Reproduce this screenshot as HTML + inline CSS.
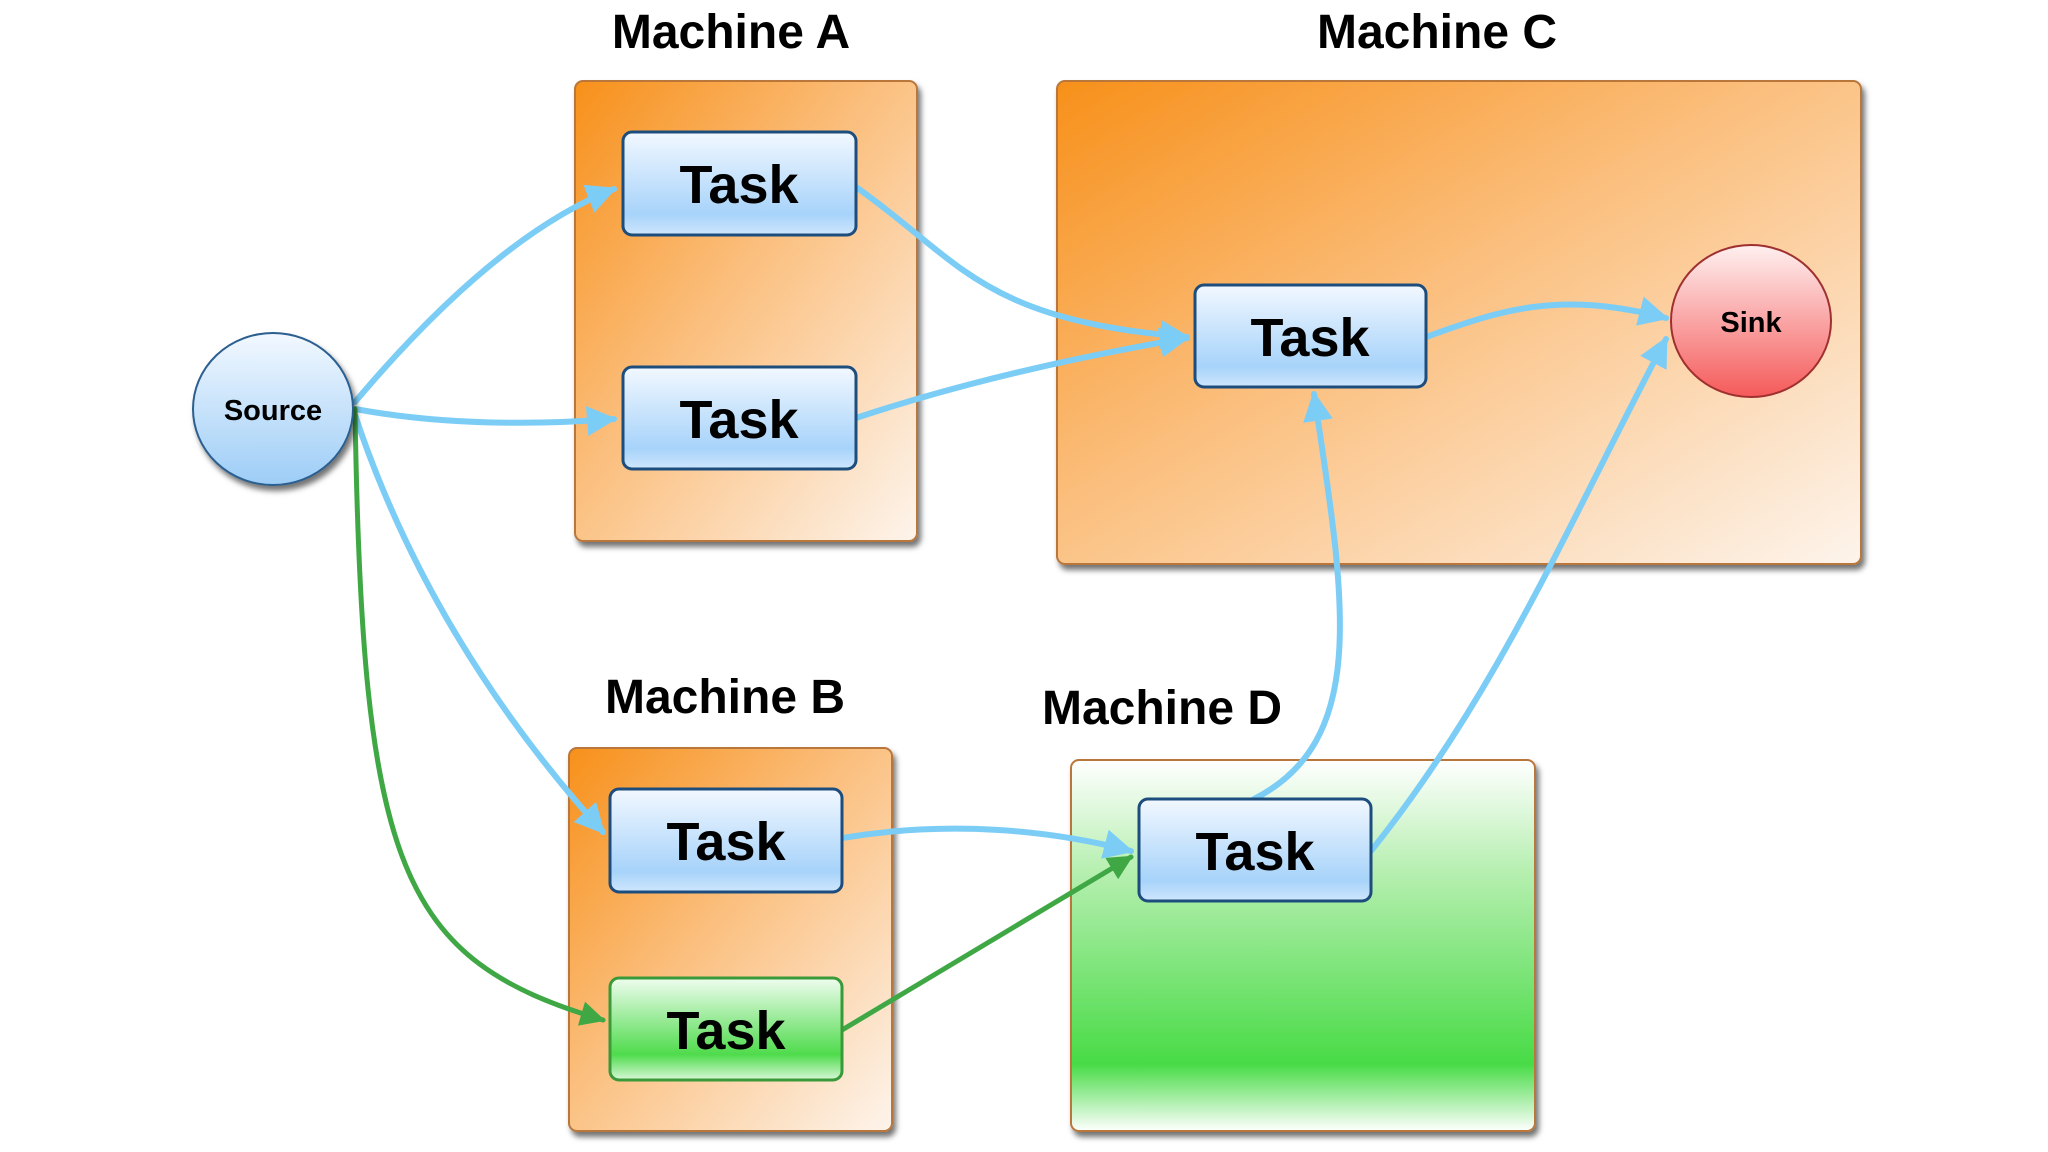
<!DOCTYPE html>
<html><head><meta charset="utf-8"><style>
html,body{margin:0;padding:0;background:#fff;}
svg{display:block;}
.t{font-family:"Liberation Sans",sans-serif;font-weight:bold;fill:#000;}
</style></head><body>
<svg width="2048" height="1152" viewBox="0 0 2048 1152" xmlns="http://www.w3.org/2000/svg">
<defs>
<linearGradient id="or" x1="0" y1="0" x2="1" y2="1"><stop offset="0" stop-color="#f7901a"/><stop offset="0.45" stop-color="#fbbf7e"/><stop offset="1" stop-color="#fdf4ec"/></linearGradient>
<linearGradient id="gr" x1="0" y1="0" x2="0" y2="1"><stop offset="0" stop-color="#ffffff"/><stop offset="0.3" stop-color="#b6efb0"/><stop offset="0.82" stop-color="#48db46"/><stop offset="1" stop-color="#ffffff"/></linearGradient>
<linearGradient id="bl" x1="0" y1="0" x2="0" y2="1"><stop offset="0" stop-color="#f2f8ff"/><stop offset="0.8" stop-color="#a7d3fa"/><stop offset="1" stop-color="#cfe6fc"/></linearGradient>
<linearGradient id="gt" x1="0" y1="0" x2="0" y2="1"><stop offset="0" stop-color="#effdef"/><stop offset="0.75" stop-color="#4fdb4c"/><stop offset="1" stop-color="#d8f8d8"/></linearGradient>
<linearGradient id="src" x1="0" y1="0" x2="0" y2="1"><stop offset="0" stop-color="#f2f8ff"/><stop offset="1" stop-color="#9dcdf6"/></linearGradient>
<linearGradient id="snk" x1="0" y1="0" x2="0" y2="1"><stop offset="0" stop-color="#fff0f0"/><stop offset="1" stop-color="#f55a5a"/></linearGradient>
<filter id="sh" x="-10%" y="-10%" width="125%" height="125%"><feDropShadow dx="3" dy="5" stdDeviation="3" flood-color="#000" flood-opacity="0.55"/></filter>
<marker id="ab" viewBox="0 0 10 10" refX="9" refY="5" markerWidth="5" markerHeight="5" orient="auto" markerUnits="strokeWidth"><path d="M0,0 L10,5 L0,10 z" fill="#7ccdf6"/></marker>
<marker id="ag" viewBox="0 0 10 10" refX="9" refY="5" markerWidth="5" markerHeight="5" orient="auto" markerUnits="strokeWidth"><path d="M0,0 L10,5 L0,10 z" fill="#3fa845"/></marker>
</defs>

<!-- machines -->
<rect x="575" y="81" width="342" height="460" rx="8" fill="url(#or)" stroke="#b9773a" stroke-width="2" filter="url(#sh)"/>
<rect x="1057" y="81" width="804" height="483" rx="8" fill="url(#or)" stroke="#b9773a" stroke-width="2" filter="url(#sh)"/>
<rect x="569" y="748" width="323" height="383" rx="8" fill="url(#or)" stroke="#b9773a" stroke-width="2" filter="url(#sh)"/>
<rect x="1071" y="760" width="464" height="371" rx="8" fill="url(#gr)" stroke="#b9773a" stroke-width="2" filter="url(#sh)"/>

<text class="t" x="731" y="48" font-size="48" text-anchor="middle">Machine A</text>
<text class="t" x="1437" y="48" font-size="48" text-anchor="middle">Machine C</text>
<text class="t" x="725" y="713" font-size="48" text-anchor="middle">Machine B</text>
<text class="t" x="1162" y="724" font-size="48" text-anchor="middle">Machine D</text>

<!-- edges -->
<g fill="none" stroke="#7ccdf6" stroke-width="6" stroke-linecap="round">
<path d="M355,402 Q496,235 614,189" marker-end="url(#ab)"/>
<path d="M355,409 Q470,430 614,419" marker-end="url(#ab)"/>
<path d="M355,415 Q430,640 603,832" marker-end="url(#ab)"/>
<path d="M856,187 C960,260 980,320 1187,337" marker-end="url(#ab)"/>
<path d="M856,418 Q1000,370 1187,338" marker-end="url(#ab)"/>
<path d="M1426,337 C1500,310 1560,290 1666,318" marker-end="url(#ab)"/>
<path d="M1254,799 C1370,740 1345,600 1314,394" marker-end="url(#ab)"/>
<path d="M1371,851 C1500,690 1570,520 1666,339" marker-end="url(#ab)"/>
<path d="M842,838 C950,820 1050,830 1131,851" marker-end="url(#ab)"/>
</g>
<g fill="none" stroke="#3fa845" stroke-width="5" stroke-linecap="round">
<path d="M355,409 C362,870 400,960 603,1020" marker-end="url(#ag)"/>
<path d="M842,1030 L1131,857" marker-end="url(#ag)"/>
</g>

<!-- nodes -->
<ellipse cx="273" cy="409" rx="80" ry="76" fill="url(#src)" stroke="#2b5f8f" stroke-width="2" filter="url(#sh)"/>
<text class="t" x="273" y="420" font-size="29" text-anchor="middle">Source</text>
<ellipse cx="1751" cy="321" rx="80" ry="76" fill="url(#snk)" stroke="#a03030" stroke-width="2"/>
<text class="t" x="1751" y="332" font-size="29" text-anchor="middle">Sink</text>

<g stroke="#1d4d7c" stroke-width="3" fill="url(#bl)">
<rect x="623" y="132" width="233" height="103" rx="9"/>
<rect x="623" y="367" width="233" height="102" rx="9"/>
<rect x="1195" y="285" width="231" height="102" rx="9"/>
<rect x="610" y="789" width="232" height="103" rx="9"/>
<rect x="1139" y="799" width="232" height="102" rx="9"/>
</g>
<rect x="610" y="978" width="232" height="102" rx="9" fill="url(#gt)" stroke="#3a9a3a" stroke-width="3"/>
<g class="t" font-size="54" text-anchor="middle">
<text x="739" y="203">Task</text>
<text x="739" y="438">Task</text>
<text x="1310" y="356">Task</text>
<text x="726" y="860">Task</text>
<text x="1255" y="870">Task</text>
<text x="726" y="1049">Task</text>
</g>
</svg>
</body></html>
